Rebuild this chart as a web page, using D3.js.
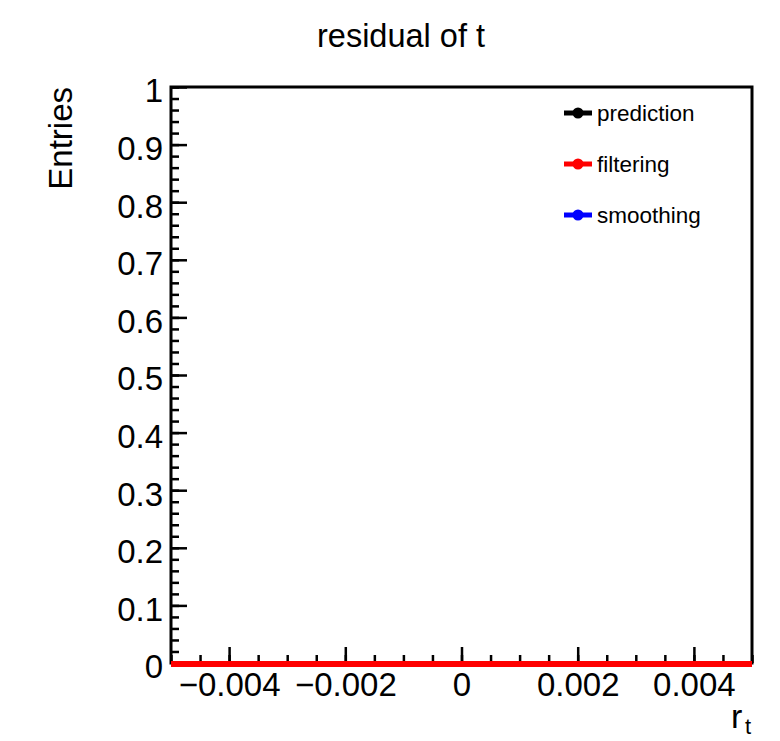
<!DOCTYPE html>
<html>
<head>
<meta charset="utf-8">
<script src="https://cdn.jsdelivr.net/npm/d3@7"></script>
<style>
  body { margin: 0; background: #fff; }
  svg { display: block; font-family: 'Liberation Sans', Arial, Helvetica, sans-serif; }
  .axis path.domain { display: none; }
  .axis line { stroke: #000; stroke-width: 2.5; }
</style>
</head>
<body>
<div id="graph"></div>
<script>
// histogram binning (r_t) and entries for each series
var binEdges = [-0.005, -0.0045, -0.004, -0.0035, -0.003, -0.0025, -0.002, -0.0015, -0.001, -0.0005,
                0, 0.0005, 0.001, 0.0015, 0.002, 0.0025, 0.003, 0.0035, 0.004, 0.0045, 0.005];
var predictionCounts = [0, 0, 0, 0, 0, 0, 0, 0, 0, 0, 0, 0, 0, 0, 0, 0, 0, 0, 0, 0];
var smoothingCounts  = [0, 0, 0, 0, 0, 0, 0, 0, 0, 0, 0, 0, 0, 0, 0, 0, 0, 0, 0, 0];
var filteringCounts  = [0, 0, 0, 0, 0, 0, 0, 0, 0, 0, 0, 0, 0, 0, 0, 0, 0, 0, 0, 0];

var xMajorTicks = [-0.004, -0.002, 0, 0.002, 0.004];
var xTickLabels = ['\u22120.004', '\u22120.002', '0', '0.002', '0.004'];
var yMajorTicks = [0, 0.1, 0.2, 0.3, 0.4, 0.5, 0.6, 0.7, 0.8, 0.9, 1];
var yTickLabels = ['0', '0.1', '0.2', '0.3', '0.4', '0.5', '0.6', '0.7', '0.8', '0.9', '1'];

var legendNames = ['prediction', 'filtering', 'smoothing'];
var legendColors = ['#000000', '#ff0000', '#0000ff'];

var config = {
  width: 780,
  height: 741,
  frame: { left: 171, right: 752, top: 87, bottom: 663 }
};

var svg = d3.select('#graph')
  .append('svg')
  .attr('width', config.width)
  .attr('height', config.height);

var x = d3.scaleLinear()
  .domain([binEdges[0], binEdges[binEdges.length - 1]])
  .range([config.frame.left, config.frame.right]);

var y = d3.scaleLinear()
  .domain([0, 1])
  .range([config.frame.bottom, config.frame.top]);

// Title
svg.append('text')
  .attr('x', 401)
  .attr('y', 47)
  .attr('text-anchor', 'middle')
  .style('font-size', '32.5px')
  .text('residual of t');

// X axis (ticks point inward)
svg.append('g')
  .attr('class', 'axis')
  .attr('transform', 'translate(0,' + config.frame.bottom + ')')
  .call(d3.axisBottom(x).tickValues(d3.ticks(-0.005, 0.005, 20)).tickSize(-8).tickSizeOuter(0).tickFormat(''));

var xAxis = svg.append('g')
  .attr('class', 'axis')
  .attr('transform', 'translate(0,' + config.frame.bottom + ')')
  .call(d3.axisBottom(x).tickValues(xMajorTicks).tickSize(-16).tickSizeOuter(0).tickPadding(10)
    .tickFormat(function(d, i){ return xTickLabels[i]; }));
xAxis.selectAll('text')
  .attr('fill', '#000')
  .style('font-size', '33px')
  .style('font-family', "'Liberation Sans', Arial, Helvetica, sans-serif");

// Y axis
svg.append('g')
  .attr('class', 'axis')
  .attr('transform', 'translate(' + config.frame.left + ',0)')
  .call(d3.axisLeft(y).tickValues(d3.ticks(0, 1, 50)).tickSize(-8).tickSizeOuter(0).tickFormat(''));

var yAxis = svg.append('g')
  .attr('class', 'axis')
  .attr('transform', 'translate(' + config.frame.left + ',0)')
  .call(d3.axisLeft(y).tickValues(yMajorTicks).tickSize(-16).tickSizeOuter(0).tickPadding(8)
    .tickFormat(function(d, i){ return yTickLabels[i]; }));
yAxis.selectAll('text')
  .attr('fill', '#000')
  .attr('dy', '0.45em')
  .style('font-size', '33px')
  .style('font-family', "'Liberation Sans', Arial, Helvetica, sans-serif");

// Axis titles
svg.append('text')
  .attr('transform', 'translate(72,' + config.frame.top + ') rotate(-90)')
  .attr('text-anchor', 'end')
  .style('font-size', '33px')
  .text('Entries');

svg.append('text')
  .attr('x', 731)
  .attr('y', 728)
  .style('font-size', '34px')
  .text('r');
svg.append('text')
  .attr('x', 745)
  .attr('y', 734)
  .style('font-size', '22px')
  .text('t');

// Frame
svg.append('rect')
  .attr('x', config.frame.left)
  .attr('y', config.frame.top)
  .attr('width', config.frame.right - config.frame.left)
  .attr('height', config.frame.bottom - config.frame.top)
  .attr('fill', 'none')
  .attr('stroke', '#000')
  .attr('stroke-width', 3);

// Histograms
var histLine = d3.line()
  .x(function(d){ return x(d[0]); })
  .y(function(d){ return y(d[1]) + 1; })
  .curve(d3.curveStepAfter);

function histPoints(counts){
  var pts = counts.map(function(c, i){ return [binEdges[i], c]; });
  pts.push([binEdges[binEdges.length - 1], counts[counts.length - 1]]);
  return pts;
}

var series = [
  { counts: predictionCounts, color: legendColors[0] },
  { counts: smoothingCounts, color: legendColors[2] },
  { counts: filteringCounts, color: legendColors[1] }
];

series.forEach(function(s){
  svg.append('path')
    .datum(histPoints(s.counts))
    .attr('d', histLine)
    .attr('fill', 'none')
    .attr('stroke', s.color)
    .attr('stroke-width', 6);
});

// Legend
var legend = svg.selectAll('.legend-item')
  .data(legendNames)
  .enter()
  .append('g')
  .attr('class', 'legend-item')
  .attr('transform', function(d, i){ return 'translate(0,' + (113 + i * 51) + ')'; });

legend.append('line')
  .attr('x1', 564)
  .attr('x2', 592)
  .attr('stroke', function(d, i){ return legendColors[i]; })
  .attr('stroke-width', 5);

legend.append('circle')
  .attr('cx', 578)
  .attr('r', 5.5)
  .attr('fill', function(d, i){ return legendColors[i]; });

legend.append('text')
  .attr('x', 597)
  .attr('dy', '0.35em')
  .style('font-size', '22.5px')
  .text(function(d){ return d; });
</script>
</body>
</html>
